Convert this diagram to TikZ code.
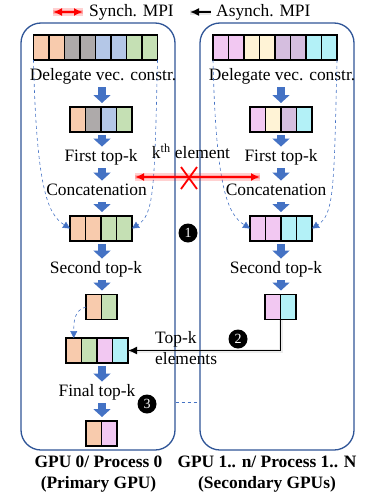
\documentclass[tikz,border=0pt]{standalone}
\usepackage{fontspec}
\setmainfont{Liberation Serif}
\usepackage{tikz}
\usetikzlibrary{positioning}
\usetikzlibrary{shapes,arrows,calc,arrows.meta}

\definecolor{peach}{HTML}{F8CBAD}
\definecolor{stone}{HTML}{AEAAAA}
\definecolor{sky}{HTML}{B4C7E7}
\definecolor{leaf}{HTML}{C5E0B4}
\definecolor{pinky}{HTML}{F2C8F2}
\definecolor{cream}{HTML}{FFF3D6}
\definecolor{lilac}{HTML}{D5BEDF}
\definecolor{aqua}{HTML}{B3F1F7}
\definecolor{boxblue}{HTML}{2F5597}
\definecolor{arrowblue}{HTML}{4472C4}

% one row of vector cells: name, left x, centre y, colours
\newcommand{\cellrow}[4]{%
  \foreach \c [count=\i] in {#4}
    \node [cell, fill=\c] (#1-\i) at ({#2+(\i-0.5)*15.5}, #3) {};
}

\begin{document}
\begin{tikzpicture}[x=1pt, y=-1pt, font=\fontsize{17.4}{20.5}\selectfont,
  cell/.style={draw, line width=1.3pt, minimum width=15.5pt, minimum height=25pt, inner sep=0pt, outer sep=0pt},
  lbl/.style={inner sep=0pt, text height=11pt, text depth=3.5pt},
  flow/.style={draw=arrowblue, line width=8pt, -{Triangle[width=17pt,length=8pt]}, shorten <=3pt, shorten >=4pt},
  gather/.style={draw=arrowblue, dashed, line width=0.6pt, -{Triangle[width=7pt,length=7pt]}},
  gpu/.style={draw=boxblue, line width=1.3pt, rounded corners=20pt},
  badge/.style={circle, fill=black, text=white, inner sep=0pt, minimum size=19pt, font=\fontsize{14}{14}\selectfont},
  redglow/.style={draw=red, line width=8pt, opacity=0.18},
  sync/.style={draw=red, line width=1.8pt, {Latex[length=9pt,width=8pt]}-{Latex[length=9pt,width=8pt]}},
  async/.style={draw=black, line width=1.5pt, -{Latex[length=9pt,width=8pt]}}]
  \useasboundingbox (0,0) rectangle (374,498);

  % GPU boxes
  \node [gpu, minimum width=154pt, minimum height=427pt] (gpuL) at (98,236.5) {};
  \node [gpu, minimum width=154pt, minimum height=427pt] (gpuR) at (277,236.5) {};
  \coordinate (colL) at (102,0);
  \coordinate (colR) at (281,0);

  % Legend
  \coordinate (sl) at (53,12);
  \coordinate (sr) at (83,12);
  \draw [redglow] (sl) -- (sr);
  \draw [redglow, line width=4pt] (sl) -- (sr);
  \draw [sync] (sl) -- (sr);
  \node [anchor=west, inner sep=0pt] (synch) at (89,12.5) {Synch. MPI};
  \coordinate (al) at (190,12);
  \coordinate (ar) at (211,12);
  \draw [draw=gray, line width=5pt, opacity=0.2] (ar) -- (al);
  \draw [async] (ar) -- (al);
  \node [anchor=west, inner sep=0pt] (asynch) at (216,12.5) {Asynch. MPI};

  % Primary GPU
  \cellrow{la}{33.5}{47.5}{peach,peach,stone,stone,sky,sky,leaf,leaf}
  \node [lbl] (ldel) at (103,77) {Delegate vec. constr.};
  \cellrow{lb}{70}{119.5}{peach,stone,sky,leaf}
  \node [lbl] (lfirst) at (101,158) {First top-k};
  \node [lbl] (lconc) at (96.5,192) {Concatenation};
  \cellrow{lc}{70}{228.5}{peach,peach,leaf,leaf}
  \node [lbl] (lsec) at (96,270) {Second top-k};
  \cellrow{ld}{86}{307}{peach,leaf}
  \cellrow{le}{66}{350.5}{peach,leaf,pinky,aqua}
  \node [lbl] (lfin) at (97,393) {Final top-k};
  \cellrow{lf}{86}{433.5}{peach,pinky}

  % Secondary GPUs
  \cellrow{ra}{213}{47.5}{pinky,pinky,cream,cream,lilac,lilac,aqua,aqua}
  \node [lbl] (rdel) at (282,77) {Delegate vec. constr.};
  \cellrow{rb}{250}{119.5}{pinky,cream,lilac,aqua}
  \node [lbl] (rfirst) at (281,158) {First top-k};
  \node [lbl] (rconc) at (276,192) {Concatenation};
  \cellrow{rc}{250}{228.5}{pinky,pinky,aqua,aqua}
  \node [lbl] (rsec) at (276,270) {Second top-k};
  \cellrow{rd}{265}{307}{pinky,aqua}

  % Block arrows
  \foreach \a/\b in {ldel/lb-1, lb-1/lfirst, lfirst/lconc, lconc/lc-1, lc-1/lsec, lsec/ld-1, le-1/lfin, lfin/lf-1}
    \draw [flow] (\a.south -| colL) -- (\b.north -| colL);
  \foreach \a/\b in {rdel/rb-1, rb-1/rfirst, rfirst/rconc, rconc/rc-1, rc-1/rsec, rsec/rd-1}
    \draw [flow] (\a.south -| colR) -- (\b.north -| colR);

  % Dashed gathers
  \draw [gather] (la-1.south west) .. controls +(3,130) and +(-22,-14) .. (lc-1.west);
  \draw [gather] (la-8.south east) .. controls +(-3,130) and +(22,-14) .. (lc-4.east);
  \draw [gather] (ra-1.south west) .. controls +(3,130) and +(-22,-14) .. (rc-1.west);
  \draw [gather] (ra-8.south east) .. controls +(-3,130) and +(22,-14) .. (rc-4.east);
  \draw [gather] (ld-1.west) .. controls +(-12,3) and +(0,-16) .. (le-1.north);
  \draw [draw=arrowblue, dashed, line width=0.6pt] (gpuL.east |- 0,402) -- (gpuR.west |- 0,402);

  % k-th element exchange
  \coordinate (kl) at (135,177);
  \coordinate (kr) at (260,177);
  \coordinate (kx) at (189,178);
  \draw [redglow] (kl) -- (kr);
  \draw [redglow, line width=4pt] (kl) -- (kr);
  \draw [sync] (kl) -- (kr);
  \draw [red, line width=1.8pt] ($(kx)+(-8,-11)$) -- ($(kx)+(8,11)$);
  \draw [red, line width=1.8pt] ($(kx)+(8,-11)$) -- ($(kx)+(-8,11)$);
  \node [lbl] (kth) at (191,155) {k\textsuperscript{th} element};

  % Top-k elements to primary
  \draw [draw=gray, line width=4pt, opacity=0.15] (rd-1.south east) |- (le-4.east);
  \draw [async] (rd-1.south east) |- (le-4.east);
  \node [anchor=west, align=left, inner sep=0pt, font=\fontsize{17.4}{21}\selectfont] (topk) at (155,348.5) {Top-k\\elements};

  % Steps
  \node [badge] (b1) at (188,233) {1};
  \node [badge] (b2) at (238,339) {2};
  \node [badge] (b3) at (147,404) {3};

  % Captions
  \node [align=center, font=\bfseries\fontsize{17.4}{21}\selectfont] (capL) at (98.5,474.5) {GPU 0/ Process 0\\(Primary GPU)};
  \node [align=center, font=\bfseries\fontsize{17.4}{21}\selectfont] (capR) at (267,474.5) {GPU 1.. n/ Process 1.. N\\(Secondary GPUs)};
\end{tikzpicture}
\end{document}
